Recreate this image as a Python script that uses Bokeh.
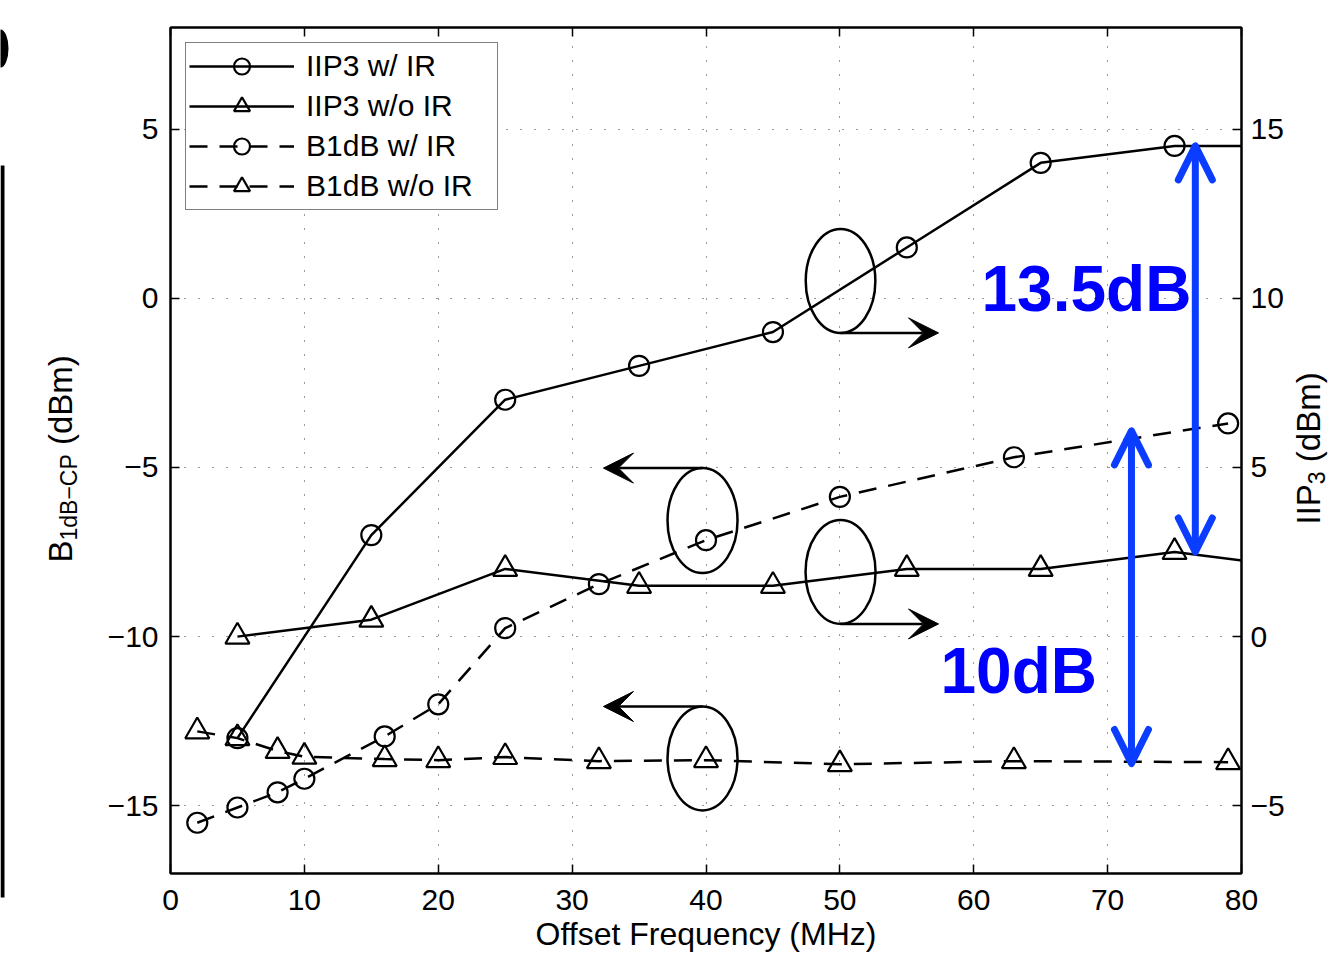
import math
from bokeh.plotting import figure
from bokeh.layouts import row
from bokeh.models import (Range1d, LinearAxis, FixedTicker, CustomJSTickFormatter, Legend,
                          LegendItem, Label, Arrow, OpenHead, VeeHead)
from bokeh.embed import file_html
from bokeh.resources import INLINE

# ---------------- data ----------------
freq_iip3 = [5, 15, 25, 35, 45, 55, 65, 75, 85]
iip3_with_ir = [-3.0, 3.0, 7.0, 8.0, 9.0, 11.5, 14.0, 14.5, 14.5]          # right axis, dBm
iip3_without_ir = [0.0, 0.5, 2.0, 1.5, 1.5, 2.0, 2.0, 2.5, 2.0]            # right axis, dBm

freq_b1db = [2, 5, 8, 10, 16, 20, 25, 32, 40, 50, 63, 79]
b1db_with_ir = [-15.5, -15.05, -14.6, -14.2, -12.95, -12.0, -9.75, -8.45, -7.15, -5.87, -4.7, -3.7]
b1db_without_ir = [-12.8, -13.0, -13.38, -13.55, -13.62, -13.65, -13.56, -13.68, -13.65, -13.77, -13.68, -13.71]

x_ticks = [0, 10, 20, 30, 40, 50, 60, 70, 80]
left_ticks = [-15, -10, -5, 0, 5]
right_ticks = [-5, 0, 5, 10, 15]

series_labels = ["IIP3 w/ IR", "IIP3 w/o IR", "B1dB w/ IR", "B1dB w/o IR"]

# ---------------- geometry ----------------
W, H = 1329, 954
LEFT_W = 85           # strip holding the left axis title
RIGHT_X = 1288        # strip holding the right axis title starts here
F_L, F_R, F_T, F_B = 170, 1241, 27, 873
X0, X1 = 0, 80
Y0, Y1 = -17, 8
R0, R1 = -7, 18

def dx(px):
    return X0 + (px - F_L) * (X1 - X0) / (F_R - F_L)

def dy(py):
    return Y1 - (py - F_T) * (Y1 - Y0) / (F_B - F_T)

FONT = "Liberation Sans"
BLUE_ARROW = "#0a3dff"
BLUE_TEXT = "#0000ff"
BASE_SHIFT = 0.355    # empirical em offset of the 'alphabetic' anchor

p = figure(width=RIGHT_X - LEFT_W, height=H, x_range=Range1d(X0, X1), y_range=Range1d(Y0, Y1),
           output_backend="svg", toolbar_location=None,
           min_border_left=F_L - LEFT_W, min_border_right=RIGHT_X - F_R,
           min_border_top=F_T, min_border_bottom=H - F_B)
p.frame_align = False
p.extra_y_ranges = {"iip3": Range1d(R0, R1)}
p.background_fill_color = "white"
p.border_fill_color = "white"
p.outline_line_color = "black"
p.outline_line_width = 2
p.outline_line_alpha = 1

minus_fmt = CustomJSTickFormatter(code="return tick < 0 ? '\\u2212' + Math.abs(tick) : String(tick);")
blank_fmt = CustomJSTickFormatter(code="return '';")

def style_axis(ax, ticks, fmt, standoff):
    ax.ticker = FixedTicker(ticks=ticks)
    ax.formatter = fmt
    ax.major_tick_in = 9
    ax.major_tick_out = 0
    ax.minor_tick_line_color = None
    ax.major_tick_line_width = 1.5
    ax.major_tick_line_color = "black"
    ax.axis_line_width = 2
    ax.axis_line_color = "black"
    ax.major_label_text_font = FONT
    ax.major_label_text_font_size = "30px"
    ax.major_label_text_color = "black"
    ax.major_label_standoff = standoff

xa = p.xaxis[0]
style_axis(xa, x_ticks, minus_fmt, 16)
xa.axis_label = "Offset Frequency (MHz)"
xa.axis_label_text_font = FONT
xa.axis_label_text_font_size = "32px"
xa.axis_label_text_font_style = "normal"
xa.axis_label_text_color = "black"
xa.axis_label_standoff = 3

ya = p.yaxis[0]
style_axis(ya, left_ticks, minus_fmt, 12)

ra = LinearAxis(y_range_name="iip3")
style_axis(ra, right_ticks, minus_fmt, 9)
p.add_layout(ra, "right")

ta = LinearAxis()
style_axis(ta, x_ticks, blank_fmt, 0)
ta.major_label_text_font_size = "1px"
p.add_layout(ta, "above")

# grid
p.xgrid.ticker = FixedTicker(ticks=x_ticks)
p.ygrid.ticker = FixedTicker(ticks=left_ticks)
for g in (p.xgrid[0], p.ygrid[0]):
    g.grid_line_color = "#333333"
    g.grid_line_width = 1
    g.grid_line_dash = "1 13"

# ---------------- series ----------------
LW = 2.5
DASH = "18 12"
r1l = p.line(freq_iip3, iip3_with_ir, y_range_name="iip3", line_color="black", line_width=LW)
r1m = p.scatter(freq_iip3, iip3_with_ir, y_range_name="iip3", marker="circle", size=20,
                fill_color=None, line_color="black", line_width=2.2)
r2l = p.line(freq_iip3, iip3_without_ir, y_range_name="iip3", line_color="black", line_width=LW)
r2m = p.scatter(freq_iip3, iip3_without_ir, y_range_name="iip3", marker="triangle", size=24,
                fill_color=None, line_color="black", line_width=2.2)
r3l = p.line(freq_b1db, b1db_with_ir, line_color="black", line_width=LW, line_dash=DASH)
r3m = p.scatter(freq_b1db, b1db_with_ir, marker="circle", size=20,
                fill_color=None, line_color="black", line_width=2.2)
r4l = p.line(freq_b1db, b1db_without_ir, line_color="black", line_width=LW, line_dash=DASH)
r4m = p.scatter(freq_b1db, b1db_without_ir, marker="triangle", size=24,
                fill_color=None, line_color="black", line_width=2.2)

legend = Legend(items=[
    LegendItem(label=series_labels[0], renderers=[r1l, r1m]),
    LegendItem(label=series_labels[1], renderers=[r2l, r2m]),
    LegendItem(label=series_labels[2], renderers=[r3l, r3m]),
    LegendItem(label=series_labels[3], renderers=[r4l, r4m]),
], location="top_left", margin=15, padding=3, spacing=0,
    glyph_width=105, glyph_height=40, label_height=40, label_width=188, label_standoff=12,
    label_text_font=FONT, label_text_font_size="30px", label_text_color="black",
    border_line_color="black", border_line_width=1.5, background_fill_color="white",
    background_fill_alpha=1)
p.add_layout(legend)

# ---------------- annotations ----------------
ell_x = [50.05, 39.74, 50.05, 39.74]
ell_y = [0.51, -6.57, -8.09, -13.6]
ell_w = [5.2, 5.23, 5.23, 5.23]
ell_h = [3.07, 3.1, 3.07, 3.07]
p.ellipse(x=ell_x, y=ell_y, width=ell_w, height=ell_h, fill_color=None,
          line_color="black", line_width=2.5)

tips_x = [57.37, 32.34, 57.37, 32.34]
for i in range(4):
    ys = ell_y[i] - ell_h[i] / 2 if i in (0, 2) else ell_y[i] + ell_h[i] / 2
    p.add_layout(Arrow(x_start=ell_x[i], y_start=ys, x_end=tips_x[i], y_end=ys,
                       line_color="black", line_width=2.5,
                       end=VeeHead(size=30, fill_color="black", line_color="black", line_width=1)))

def blue_head():
    return OpenHead(size=34, line_color=BLUE_ARROW, line_width=7, line_cap="round", line_join="round")

p.add_layout(Arrow(x_start=76.55, y_start=iip3_with_ir[7], x_end=76.55, y_end=iip3_without_ir[7],
                   y_range_name="iip3", line_color=BLUE_ARROW, line_width=7,
                   start=blue_head(), end=blue_head()))
p.add_layout(Arrow(x_start=71.78, y_start=-3.92, x_end=71.78, y_end=-13.75,
                   line_color=BLUE_ARROW, line_width=7, start=blue_head(), end=blue_head()))

for txt, px, py in (("13.5dB", 981, 311), ("10dB", 940, 693)):
    p.add_layout(Label(x=dx(px), y=dy(py - BASE_SHIFT * 64), text=txt, text_font=FONT,
                       text_font_size="64px", text_font_style="bold", text_color=BLUE_TEXT,
                       text_align="left", text_baseline="alphabetic"))

# ---------------- side strips with the rotated axis titles ----------------
def strip(x_from, x_to):
    f = figure(width=x_to - x_from, height=H, x_range=Range1d(x_from, x_to), y_range=Range1d(H, 0),
               output_backend="svg", toolbar_location=None, min_border=0)
    f.frame_align = False
    f.axis.visible = False
    f.grid.visible = False
    f.outline_line_color = None
    f.background_fill_color = "white"
    f.border_fill_color = "white"
    return f

left = strip(0, LEFT_W)
right = strip(RIGHT_X, W)

MAIN, SUB = 33, 23

def rot_label(fig, text, baseline_x, anchor_y, size, align="left"):
    fig.add_layout(Label(x=baseline_x - BASE_SHIFT * size, y=anchor_y, text=text, angle=math.pi / 2,
                         text_font=FONT, text_font_size=f"{size}px", text_color="black",
                         text_align=align, text_baseline="alphabetic"))

# left: B_{1dB-CP} (dBm)   (text reads upwards, anchors at the lower end)
y0 = 562
rot_label(left, "B", 72, y0, MAIN)
ys = y0 - 0.667 * MAIN
rot_label(left, "1dB\u2212CP", 77, ys, SUB)
rot_label(left, "(dBm)", 72, ys - 3.752 * SUB - 0.278 * MAIN, MAIN)

# right: IIP_3 (dBm)   (anchors at the upper end of each piece)
y0 = 524
y_iip = y0 - 1.223 * MAIN
rot_label(right, "IIP", 1320, y_iip, MAIN, "right")
y_3 = y_iip - 0.556 * SUB
rot_label(right, "3", 1324, y_3, SUB, "right")
y_dbm = y_3 - 0.278 * MAIN - 2.722 * MAIN
rot_label(right, "(dBm)", 1320, y_dbm, MAIN, "right")

# cropped edge of the neighbouring panel
left.quad(left=[0], right=[4], top=[165], bottom=[897], fill_color="black", line_color=None)
left.ellipse(x=[0], y=[48], width=[16], height=[38], fill_color="black", line_color=None)

layout = row(left, p, right, spacing=0)
open("out.html", "w").write(file_html(layout, INLINE))
